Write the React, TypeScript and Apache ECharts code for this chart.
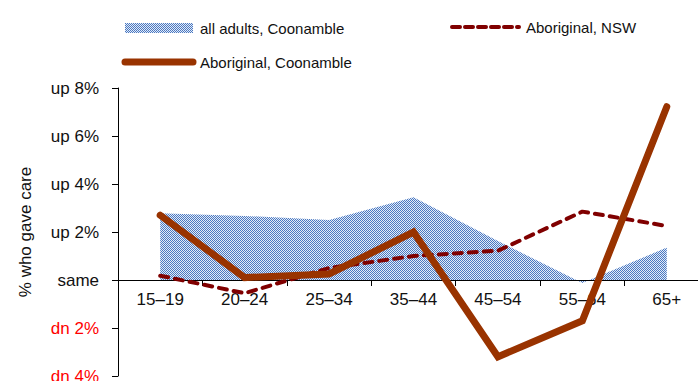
import React, { useEffect, useRef } from "react";
import * as echarts from "echarts";

const categories = ["15–19", "20–24", "25–34", "35–44", "45–54", "55–64", "65+"];
const allAdultsCoonamble = [2.78, 2.67, 2.5, 3.45, 1.62, -0.12, 1.35];
const aboriginalNSW = [0.18, -0.55, 0.5, 1.0, 1.22, 2.85, 2.25];
const aboriginalCoonamble = [2.7, 0.1, 0.25, 2.0, -3.2, -1.7, 7.22];
const yTickLabels: Record<number, string> = {
  8: "up 8%",
  6: "up 6%",
  4: "up 4%",
  2: "up 2%",
  0: "same",
  [-2]: "dn 2%",
  [-4]: "dn 4%",
};

const FONT = "Liberation Sans, Arial, sans-serif";

function makePattern() {
  const c = document.createElement("canvas");
  c.width = 4;
  c.height = 4;
  const ctx = c.getContext("2d")!;
  ctx.fillStyle = "#e4ecf7";
  ctx.fillRect(0, 0, 4, 4);
  ctx.fillStyle = "#4a78c2";
  for (let y = 0; y < 4; y++) {
    for (let x = 0; x < 4; x++) {
      if ((x + y) % 2 === 0) ctx.fillRect(x, y, 1, 1);
    }
  }
  return { image: c, repeat: "repeat", imageWidth: 4, imageHeight: 4 } as any;
}

export default function App() {
  const ref = useRef<HTMLDivElement>(null);
  useEffect(() => {
    const chart = echarts.init(ref.current!, null, { renderer: "svg" });
    const pattern = makePattern();
    chart.setOption({
      animation: false,
      grid: { left: 118, right: -11, top: 88, bottom: 5, containLabel: false, outerBoundsMode: "none" },
      xAxis: {
        type: "category",
        data: categories,
        boundaryGap: true,
        position: "bottom",
        offset: -96,
        axisLine: { onZero: false, lineStyle: { color: "#000", width: 1 } },
        axisTick: { show: true, length: 6, inside: false, lineStyle: { color: "#000" } },
        axisLabel: { color: "#111", fontSize: 17, fontFamily: FONT, margin: 11 },
        splitLine: { show: false },
        z: 1,
      },
      yAxis: {
        type: "value",
        min: -4,
        max: 8,
        interval: 2,
        name: "% who gave care",
        nameLocation: "middle",
        nameGap: 84,
        nameRotate: 90,
        nameTextStyle: { color: "#111", fontSize: 17, fontFamily: FONT },
        axisLine: { show: true, lineStyle: { color: "#000", width: 1 } },
        axisTick: { show: true, length: 6, lineStyle: { color: "#000" } },
        axisLabel: {
          fontSize: 17,
          fontFamily: FONT,
          margin: 19,
          formatter: (v: number) => yTickLabels[v] ?? "",
          color: (v: any) => (Number(v) < 0 ? "#ff0000" : "#111"),
        },
        splitLine: { show: false },
      },
      series: [
        {
          name: "all adults, Coonamble",
          type: "line",
          data: allAdultsCoonamble,
          symbol: "none",
          lineStyle: { width: 0, opacity: 0 },
          areaStyle: { color: pattern, opacity: 1 },
          z: 1,
        },
        {
          name: "Aboriginal, NSW",
          type: "line",
          data: aboriginalNSW,
          symbol: "none",
          lineStyle: { color: "#800000", width: 4, type: [8, 7], cap: "round" },
          z: 3,
        },
        {
          name: "Aboriginal, Coonamble",
          type: "line",
          data: aboriginalCoonamble,
          symbol: "none",
          lineStyle: { color: "#993300", width: 7, cap: "round", join: "miter" },
          z: 4,
        },
      ],
      graphic: [
        {
          type: "rect",
          shape: { x: 125, y: 23, width: 68, height: 10 },
          style: { fill: pattern },
        },
        {
          type: "text",
          x: 200,
          y: 28,
          style: { text: "all adults, Coonamble", fill: "#111", font: `15px ${FONT}`, verticalAlign: "middle" },
        },
        {
          type: "line",
          shape: { x1: 125, y1: 62, x2: 193, y2: 62 },
          style: { stroke: "#993300", lineWidth: 7, lineCap: "round" },
        },
        {
          type: "text",
          x: 200,
          y: 62,
          style: { text: "Aboriginal, Coonamble", fill: "#111", font: `15px ${FONT}`, verticalAlign: "middle" },
        },
        {
          type: "line",
          shape: { x1: 452, y1: 27, x2: 519, y2: 27 },
          style: { stroke: "#800000", lineWidth: 4, lineDash: [8, 5], lineCap: "round" },
        },
        {
          type: "text",
          x: 526,
          y: 27,
          style: { text: "Aboriginal, NSW", fill: "#111", font: `15px ${FONT}`, verticalAlign: "middle" },
        },
      ],
    });
    return () => chart.dispose();
  }, []);
  return <div ref={ref} style={{ width: 698, height: 381, position: "absolute", left: 0, top: 0 }} />;
}
